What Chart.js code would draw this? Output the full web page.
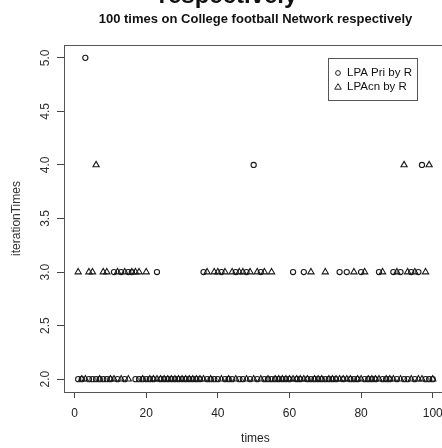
<!DOCTYPE html>
<html>
<head>
<meta charset="utf-8">
<script src="https://cdn.jsdelivr.net/npm/chart.js@4/dist/chart.umd.min.js"></script>
<style>
  html, body { margin: 0; padding: 0; background: #fff; overflow: hidden; }
  .wrap { width: 452px; height: 448px; position: relative; }
</style>
</head>
<body>
<div class="wrap"><canvas id="myChart"></canvas></div>
<script>
const ctx = document.getElementById('myChart')

// run number 1..100
const times = [1,2,3,4,5,6,7,8,9,10,11,12,13,14,15,16,17,18,19,20,
  21,22,23,24,25,26,27,28,29,30,31,32,33,34,35,36,37,38,39,40,
  41,42,43,44,45,46,47,48,49,50,51,52,53,54,55,56,57,58,59,60,
  61,62,63,64,65,66,67,68,69,70,71,72,73,74,75,76,77,78,79,80,
  81,82,83,84,85,86,87,88,89,90,91,92,93,94,95,96,97,98,99,100]

const lpaPri = [2,2,5,2,2,2,2,2,2,2, 3,2,3,2,3,3,2,2,2,2,
  2,2,3,2,2,2,2,2,2,2, 2,2,2,2,2,3,2,2,2,2,
  3,2,2,2,3,2,2,3,2,4, 2,3,2,2,2,2,2,2,2,2,
  3,2,2,3,2,2,2,2,2,2, 2,2,2,3,2,3,2,2,2,3,
  2,2,2,2,3,2,2,2,3,2, 3,2,2,3,2,3,4,2,2,2]

const lpaCn = [3,2,2,3,3,4,2,3,3,2, 2,3,2,3,2,3,3,3,2,3,
  2,2,2,2,2,2,2,2,2,2, 2,2,2,2,2,2,3,2,3,3,
  2,3,2,3,2,3,3,2,3,2, 3,2,3,2,3,2,2,2,2,2,
  2,2,2,2,2,3,2,2,2,3, 2,2,2,2,2,2,2,3,2,2,
  3,2,2,2,2,3,2,2,2,3, 2,4,3,2,3,2,2,3,4,2]

const xTicks = [0, 20, 40, 60, 80, 100]
const yTicks = [2.0, 2.5, 3.0, 3.5, 4.0, 4.5, 5.0]
const titleLines = ['respectively', '100 times on College football Network respectively']

const boxAndLegend = {
  id: 'boxAndLegend',
  afterDraw(chart) {
    const c = chart.ctx
    const a = chart.chartArea
    c.save()
    // titles (first line is cut off by the top edge, as in the source)
    c.fillStyle = '#111'
    c.textAlign = 'center'
    c.textBaseline = 'alphabetic'
    c.font = 'bold 24px "Liberation Sans", Arial, sans-serif'
    c.fillText(titleLines[0], 228, 3)
    c.textBaseline = 'middle'
    c.font = 'bold 13px "Liberation Sans", Arial, sans-serif'
    c.fillText(titleLines[1], (a.left + a.right) / 2, 19)

    c.strokeStyle = '#555'
    c.lineWidth = 1
    c.strokeRect(Math.round(a.left) + 0.5, Math.round(a.top) + 0.5, Math.round(a.right - a.left), Math.round(a.bottom - a.top))
    // legend box
    c.strokeRect(328.5, 58.5, 89, 42)
    c.textAlign = 'left'
    c.font = '11.5px "Liberation Sans", Arial, sans-serif'
    c.fillStyle = '#111'
    const rows = [73, 87]
    chart.data.datasets.forEach((ds, i) => {
      c.strokeStyle = '#222'
      c.lineWidth = 1
      c.beginPath()
      if (ds.pointStyle === 'triangle') {
        c.moveTo(338, rows[i] - 3.4); c.lineTo(341.3, rows[i] + 2.2); c.lineTo(334.7, rows[i] + 2.2); c.closePath()
      } else {
        c.arc(338, rows[i], 2.4, 0, Math.PI * 2)
      }
      c.stroke()
      c.fillText(ds.label, 347, rows[i])
    })
    c.restore()
  }
}

const mk = arr => arr.map((v, i) => ({ x: times[i], y: v }))

new Chart(ctx, {
  type: 'scatter',
  data: {
    datasets: [{
      label: 'LPA Pri by R',
      data: mk(lpaPri),
      pointStyle: 'circle',
      pointRadius: 2.6,
      borderWidth: 1.1,
      borderColor: '#1a1a1a',
      backgroundColor: 'rgba(0,0,0,0)'
    },
    {
      label: 'LPAcn by R',
      data: mk(lpaCn),
      pointStyle: 'triangle',
      pointRadius: 3.6,
      borderWidth: 1.1,
      borderColor: '#1a1a1a',
      backgroundColor: 'rgba(0,0,0,0)'
    }]
  },
  options: {
    responsive: true,
    maintainAspectRatio: false,
    animation: false,
    layout: { padding: { left: 0, right: 1, top: 45, bottom: 0 } },
    plugins: {
      legend: { display: false },
      tooltip: { enabled: false },
      title: { display: false },
      subtitle: { display: false }
    },
    scales: {
      x: {
        type: 'linear',
        min: -2.96,
        max: 103.96,
        afterBuildTicks: s => { s.ticks = xTicks.map(v => ({ value: v })) },
        afterFit: s => { s.height = 56 },
        grid: { drawOnChartArea: false, drawTicks: true, tickLength: 6, color: '#444' },
        border: { display: false },
        ticks: { color: '#222', padding: 8, font: { size: 12, family: '"Liberation Sans", Arial, sans-serif' }, maxRotation: 0 },
        title: { display: true, text: 'times', color: '#222', padding: { top: 0, bottom: 2 }, font: { size: 12, family: '"Liberation Sans", Arial, sans-serif' } }
      },
      y: {
        type: 'linear',
        min: 1.88,
        max: 5.12,
        afterBuildTicks: s => { s.ticks = yTicks.map(v => ({ value: v })) },
        afterFit: s => { s.width = 64 },
        grid: { drawOnChartArea: false, drawTicks: true, tickLength: 7, color: '#444' },
        border: { display: false },
        ticks: {
          color: '#333', padding: 3, crossAlign: 'center', minRotation: 90, maxRotation: 90,
          font: { size: 12, family: '"Liberation Sans", Arial, sans-serif' },
          callback: v => v.toFixed(1)
        },
        title: { display: true, text: 'iterationTimes', color: '#333', padding: { top: 9, bottom: 0 }, font: { size: 12, family: '"Liberation Sans", Arial, sans-serif' } }
      }
    }
  },
  plugins: [boxAndLegend]
})
</script>
</body>
</html>
